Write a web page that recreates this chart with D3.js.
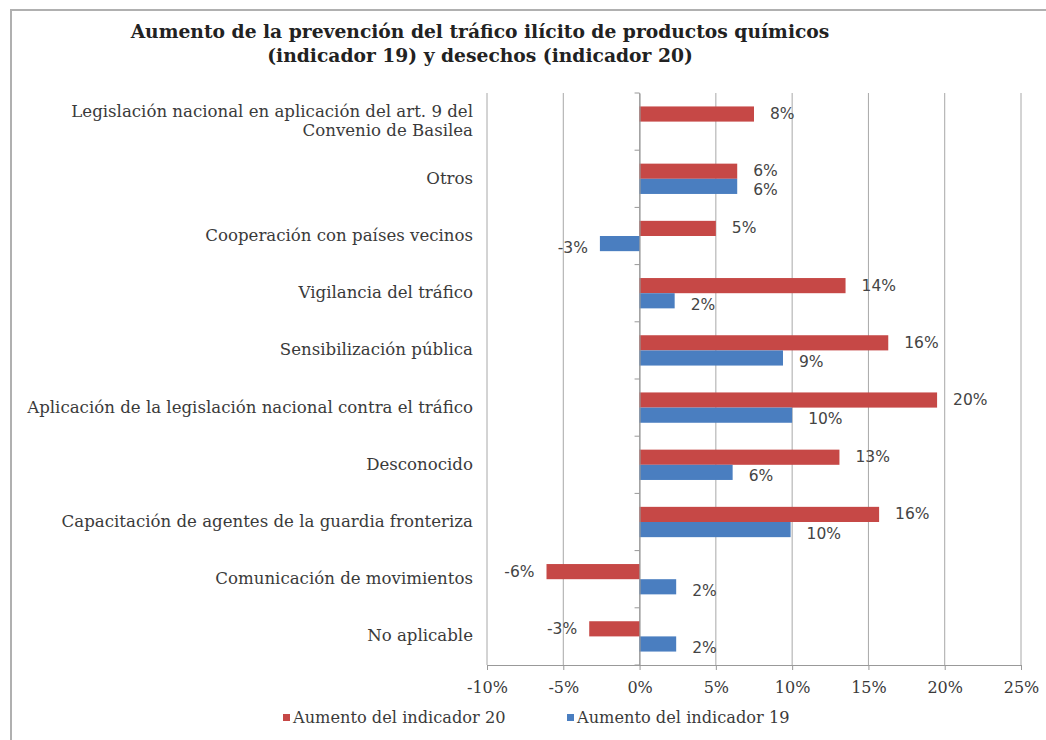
<!DOCTYPE html>
<html><head><meta charset="utf-8">
<script src="https://cdn.jsdelivr.net/npm/d3@7"></script>
<style>body{margin:0;background:#fff}svg{display:block}</style>
</head><body>
<svg id="c" width="1046" height="740"></svg>
<script>
const categories = [
  ["Legislación nacional en aplicación del art. 9 del", "Convenio de Basilea"],
  ["Otros"],
  ["Cooperación con países vecinos"],
  ["Vigilancia del tráfico"],
  ["Sensibilización pública"],
  ["Aplicación de la legislación nacional contra el tráfico"],
  ["Desconocido"],
  ["Capacitación de agentes de la guardia fronteriza"],
  ["Comunicación de movimientos"],
  ["No aplicable"]
];
const indicador20 = [7.5, 6.4, 5.0, 13.5, 16.3, 19.5, 13.1, 15.7, -6.1, -3.3];
const indicador19 = [null, 6.4, -2.6, 2.3, 9.4, 10.0, 6.1, 9.9, 2.4, 2.4];
const seriesNames = ["Aumento del indicador 20", "Aumento del indicador 19"];
const xTicks = [-10, -5, 0, 5, 10, 15, 20, 25];
const titleLines = ["Aumento de la prevención del tráfico ilícito  de productos químicos", "(indicador 19) y desechos (indicador 20)"];

const colors = ["#c64846", "#4a7ec0"];
const serif = "'DejaVu Serif', serif";
const sans = "'DejaVu Sans', sans-serif";
const txt = "#3a3a3a";

const svg = d3.select("#c");
// frame
svg.append("path").attr("d", "M11,740V10H1046").attr("fill", "none").attr("stroke", "#b0b0b0").attr("stroke-width", 2);

const x = d3.scaleLinear().domain([-10, 25]).range([487, 1021]);
const idx = d3.range(categories.length);
const y = d3.scaleBand().domain(idx).range([93, 665]).padding(0);
const grp = d3.scaleBand().domain([0, 1]).range([0, y.bandwidth() * 0.53]);
const off = (y.bandwidth() - y.bandwidth() * 0.53) / 2;

// gridlines
svg.append("g").selectAll("line").data(xTicks).join("line")
  .attr("x1", d => x(d)).attr("x2", d => x(d))
  .attr("y1", 93).attr("y2", 665)
  .attr("stroke", "#a8a8a8").attr("stroke-width", 1);

// bottom axis
const xa = svg.append("g").attr("transform", "translate(0,665)")
  .call(d3.axisBottom(x).tickValues(xTicks).tickSize(5).tickPadding(12).tickFormat(d => d + "%"));
xa.select(".domain").attr("stroke", "#999");
xa.selectAll(".tick line").attr("stroke", "#999");
xa.selectAll("text").attr("font-family", serif).attr("font-size", 16).attr("fill", txt);

// bars
const series = [indicador20, indicador19];
const labelShift = [5, 9];
series.forEach((vals, s) => {
  svg.append("g").selectAll("rect").data(idx.filter(i => vals[i] !== null)).join("rect")
    .attr("x", i => x(Math.min(0, vals[i])))
    .attr("width", i => Math.abs(x(vals[i]) - x(0)))
    .attr("y", i => y(i) + off + grp(s))
    .attr("height", grp.bandwidth())
    .attr("fill", colors[s]);
  svg.append("g").selectAll("text").data(idx.filter(i => vals[i] !== null)).join("text")
    .attr("x", i => vals[i] >= 0 ? x(vals[i]) + 16 : x(vals[i]) - 12)
    .attr("text-anchor", i => vals[i] >= 0 ? "start" : "end")
    .attr("y", i => y(i) + off + grp(s) + grp.bandwidth() / 2 + labelShift[s])
    .attr("font-family", sans).attr("font-size", 15.5).attr("fill", "#444")
    .text(i => Math.round(vals[i]) + "%");
});

// vertical axis at zero
const ya = svg.append("g").attr("transform", `translate(${x(0)},0)`)
  .call(d3.axisLeft(y).tickSize(0).tickFormat(""));
ya.select(".domain").attr("stroke", "#999");
svg.append("g").selectAll("line").data(d3.range(categories.length + 1)).join("line")
  .attr("x1", x(0) - 5).attr("x2", x(0))
  .attr("y1", i => 93 + i * y.step()).attr("y2", i => 93 + i * y.step())
  .attr("stroke", "#999");

// category labels
const cl = svg.append("g").selectAll("text").data(idx).join("text")
  .attr("text-anchor", "end").attr("font-family", serif).attr("font-size", 16.6).attr("fill", txt)
  .attr("x", 473)
  .attr("y", i => y(i) + y.bandwidth() / 2 + 5 - (categories[i].length - 1) * 9.5);
cl.selectAll("tspan").data(i => categories[i]).join("tspan")
  .attr("x", 473).attr("dy", (d, j) => j ? 19 : 0).text(d => d);

// title
svg.append("g").selectAll("text").data(titleLines).join("text")
  .attr("x", 480).attr("y", (d, i) => 38 + i * 24).attr("text-anchor", "middle")
  .attr("font-family", serif).attr("font-weight", "bold").attr("font-size", 18.7).attr("fill", "#222")
  .text(d => d);

// legend
const lg = svg.append("g").selectAll("g").data(seriesNames).join("g")
  .attr("transform", (d, i) => `translate(${[283, 567][i]},718)`);
lg.append("rect").attr("x", 0).attr("y", -4).attr("width", 7).attr("height", 7).attr("fill", (d, i) => colors[i]);
lg.append("text").attr("x", 10).attr("y", 5).attr("font-family", serif).attr("font-size", 16.2).attr("fill", txt).text(d => d);
</script>
</body></html>
